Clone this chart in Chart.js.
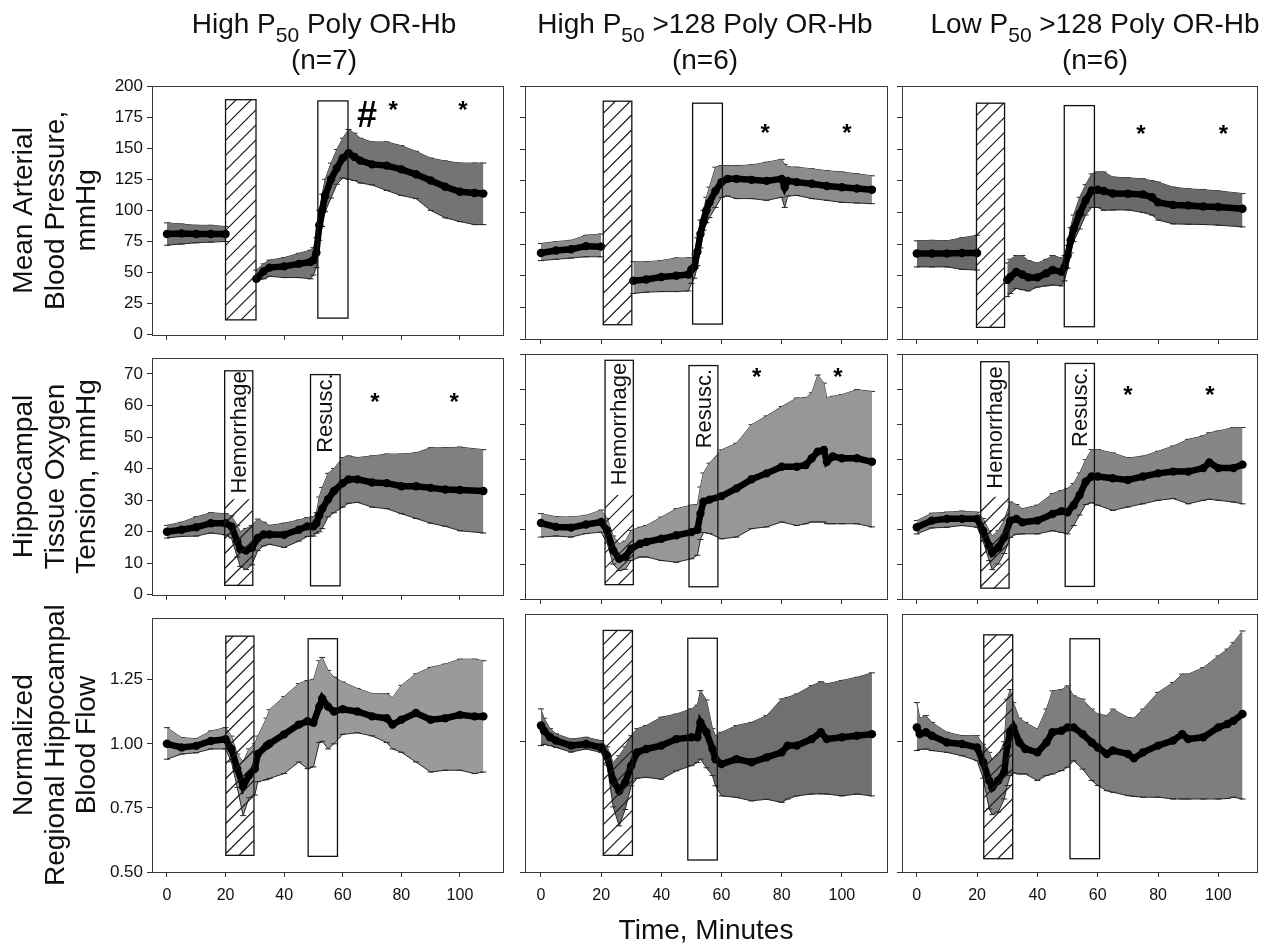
<!DOCTYPE html>
<html><head><meta charset="utf-8">
<script src="https://cdn.jsdelivr.net/npm/chart.js@4.4.1/dist/chart.umd.min.js"></script>
<style>
html,body{margin:0;padding:0;background:#fff;}
#wrap{position:relative;width:1262px;height:948px;overflow:hidden;background:#fff;}
canvas{position:absolute;}
</style></head><body><div id="wrap"></div>
<script>
// ---------------- text ----------------
const titleMain = ['High P', 'High P', 'Low P'];
const titleSub = ['50', '50', '50'];
const titleRest = [' Poly OR-Hb', ' >128 Poly OR-Hb', ' >128 Poly OR-Hb'];
const groupN = ['(n=7)', '(n=6)', '(n=6)'];
const rowTitles = [
  ['Mean Arterial', 'Blood Pressure,', 'mmHg'],
  ['Hippocampal', 'Tissue Oxygen', 'Tension, mmHg'],
  ['Normalized', 'Regional Hippocampal', 'Blood Flow']
];
const xAxisTitle = 'Time, Minutes';
const hemLabel = 'Hemorrhage';
const resLabel = 'Resusc.';

// ---------------- tick values ----------------
const xTickValues = [0, 20, 40, 60, 80, 100];
const mapTicks = [0, 25, 50, 75, 100, 125, 150, 175, 200];
const ptoTicks = [0, 10, 20, 30, 40, 50, 60, 70];
const flowTicksLabeled = [0.5, 0.75, 1.0, 1.25];
const flowTicksPlain = [0.5, 1.0];

// ---------------- data: row 1, mean arterial blood pressure (mmHg) ----------------
const A1_t  = [0, 5, 10, 15, 20, 25, 30.5, 33, 35, 40, 45, 49, 50, 51, 52, 53, 54, 56, 58, 60, 62, 64, 66, 70, 75, 80, 85, 90, 95, 100, 105, 108];
const A1_m  = [81, 81.5, 81, 81, 81, null, 45, 51, 54, 55, 57, 58.5, 60, 66, 88, 100, 112, 125, 134, 142, 146, 143, 140, 137, 136, 133, 129, 124, 119, 115, 114, 113.5];
const A1_hi = [90, 89, 88, 88, 87, null, 52, 57, 60, 62, 65.5, 68, 70, 78, 100, 113, 125, 138, 149, 158, 165, 162, 158, 155, 155, 152, 147.5, 142, 139.7, 138, 138, 138];
const A1_lo = [72, 73, 74, 74.5, 75, null, 43, 45, 47, 46, 46, 45, 48, 54, 76, 87, 99, 110, 121, 126, 125, 124, 122, 120.5, 116, 112, 109.5, 100, 94, 91, 88.6, 88.6];

const B1_t  = [0, 5, 10, 15, 20, 25, 30.7, 35, 40, 45, 49, 50, 51, 52, 53, 54, 55, 56, 58, 60, 62, 65, 70, 75, 80, 81, 82, 85, 90, 95, 100, 105, 110];
const B1_m  = [68, 70, 71, 73.4, 73, null, 46, 47, 49, 50, 51, 55, 57, 69, 83, 92.5, 101.7, 108, 117, 124, 126.6, 126.6, 125.8, 125, 126.6, 120, 125, 124, 122.7, 121, 120, 119, 118];
const B1_hi = [75.5, 77, 78, 82, 83, null, 61, 61, 62, 64, 64, 64, 67, 80, 94, 101.7, 112, 120, 135.8, 137, 137, 137, 137.6, 139.7, 142, 138, 136, 135.8, 134.5, 133, 132, 130.5, 129];
const B1_lo = [62, 63, 64, 65, 65, null, 36, 37, 37.5, 37.5, 38, 44, 48, 58, 72, 86, 92, 96, 104, 112, 113, 111, 111, 109.6, 112, 104, 113, 113.5, 111, 109.6, 108, 107.5, 107];

const C1_t  = [0, 5, 10, 15, 20, 25, 30, 31, 33, 35, 37, 40, 43, 45, 48, 49, 50, 51, 52, 54, 56, 58, 60, 62, 65, 70, 75, 78, 80, 85, 90, 95, 100, 108];
const C1_m  = [67.6, 67.6, 67.6, 68, 68, null, 46.7, 49, 53, 51, 48.7, 48.7, 52, 54.5, 53.2, 57, 66, 78, 87, 99, 109.6, 117.4, 118, 117, 115, 114.8, 114.3, 112, 108, 106, 105.6, 104.8, 104.3, 103];
const C1_hi = [77.6, 78, 77.6, 80, 82, null, 60, 63, 66, 66, 62, 60, 63, 66, 64, 66, 74, 88, 98, 112, 122, 130.5, 132, 132, 128, 127.4, 126.6, 125, 124, 120, 118.7, 118, 117, 115];
const C1_lo = [57, 57, 57, 55, 54.5, null, 33.5, 36, 40, 39, 38, 41, 42, 42.7, 42, 46, 56, 68, 77, 87, 98, 104, 104, 101.7, 102, 102, 100, 98, 94, 91, 90.7, 90.5, 90, 88.6];

// ---------------- data: row 2, hippocampal tissue oxygen tension (mmHg) ----------------
const A2_t  = [0, 5, 10, 15, 20, 22, 24, 25, 27, 29, 31, 33, 35, 40, 45, 48, 50, 51, 52, 53, 55, 57, 60, 62, 65, 70, 75, 80, 85, 90, 95, 100, 108];
const A2_m  = [20, 20.6, 21.4, 22.7, 22.7, 21.7, 17, 14.5, 14, 14.9, 18, 19.1, 19.1, 19, 20.6, 21.7, 21.7, 22.7, 25.2, 27.3, 30.3, 32.9, 35.4, 36.6, 36.6, 35.6, 35.4, 34.4, 34.4, 33.9, 33.4, 33.2, 32.9];
const A2_hi = [22, 23, 24.7, 26, 25.7, 25, 22, 20, 21, 22, 24, 23, 22, 22.7, 23.7, 24.5, 24.7, 26, 31, 34, 38.5, 40, 43.5, 44, 43.5, 44, 44.6, 44.6, 45, 46.6, 46.6, 46.8, 46];
const A2_lo = [18, 18.5, 18.6, 19.6, 19, 18, 12, 9, 8, 9.5, 14, 15.5, 16, 15, 17, 18.5, 18.6, 19.5, 20, 21, 24.7, 26, 27.8, 29, 29.3, 27.8, 27.3, 25.7, 24.2, 22.7, 21.7, 20.3, 19.6];

const B2_t  = [0, 5, 10, 15, 20, 22, 24, 26, 28, 30, 33, 35, 40, 45, 50, 52, 53, 54, 56, 60, 65, 70, 75, 80, 85, 88, 90, 92, 94, 95, 97, 100, 105, 110];
const B2_m  = [21.7, 20.6, 20.4, 21.3, 22, 19.6, 13.9, 11.5, 12, 14.4, 15.8, 16.3, 17.2, 18.2, 19.1, 19.8, 24.4, 27.8, 28.4, 29.4, 31.6, 34.2, 35.9, 37.8, 37.8, 38.3, 40.2, 42.1, 42.6, 39.2, 40.7, 40.2, 40.2, 39.2];
const B2_hi = [24.4, 23.5, 23.4, 23.9, 25.4, 23, 18, 15.8, 16.5, 19.6, 20.5, 21, 23.4, 25.8, 26.8, 27, 32, 36, 38.8, 42.6, 44.5, 49.8, 52.3, 55, 57.4, 57.5, 58.9, 64, 61.7, 57.5, 57.9, 58.4, 59.8, 59.3];
const B2_lo = [17.7, 18, 17.7, 18.7, 19.1, 16, 10, 8.1, 8.5, 11, 12, 12, 11, 10.5, 11.5, 12.5, 17, 19, 18.7, 17.2, 17.7, 20.1, 20.6, 22, 21, 21.5, 22, 22, 22, 21.5, 21.5, 21.5, 21.5, 20.6];

const C2_t  = [0, 5, 10, 15, 20, 22, 24, 25, 27, 29, 31, 33, 35, 40, 45, 48, 50, 52, 54, 56, 58, 60, 65, 70, 75, 80, 85, 90, 95, 97, 100, 105, 108];
const C2_m  = [20.5, 22.4, 22.9, 22.9, 22.9, 19.5, 15.2, 13.2, 14.7, 17.6, 22.4, 22.9, 21.9, 22.4, 24.3, 25.1, 24.8, 26.8, 29.7, 33.5, 35, 35, 34.5, 34, 35, 35.9, 36.4, 36.4, 37.4, 39, 37.4, 37.4, 38.4];
const C2_hi = [22.4, 24.5, 24.8, 25.1, 24.8, 23, 19.5, 18, 19.5, 22.5, 27.7, 27, 25.8, 26.8, 30.1, 31, 31.6, 33, 36, 39.8, 42.7, 42.7, 41.7, 40.3, 40.8, 42.2, 43.7, 45.6, 46.6, 47.5, 48, 49, 49];
const C2_lo = [18.6, 20.3, 20.5, 21, 20.5, 16.5, 11, 8.4, 10, 13, 17.6, 18.5, 18.6, 18.6, 19.5, 19, 18.6, 21, 24, 27, 27.5, 26.8, 25.3, 26.3, 27.2, 28.2, 28.7, 27.2, 28.2, 28.5, 28.2, 27.7, 27.2];

// ---------------- data: row 3, normalized regional hippocampal blood flow ----------------
const A3_t  = [0, 5, 10, 15, 20, 22, 24, 26, 28, 30, 31, 34, 35, 40, 45, 48, 50, 52, 53, 55, 57, 60, 65, 70, 75, 77, 80, 85, 90, 95, 100, 105, 108];
const A3_m  = [1.00, 0.986, 0.992, 1.011, 1.018, 0.98, 0.903, 0.833, 0.877, 0.903, 0.96, 0.992, 1.00, 1.037, 1.075, 1.088, 1.082, 1.145, 1.177, 1.145, 1.126, 1.135, 1.126, 1.107, 1.1, 1.075, 1.094, 1.12, 1.094, 1.1, 1.113, 1.107, 1.107];
const A3_hi = [1.063, 1.024, 1.02, 1.05, 1.063, 1.03, 0.96, 0.93, 0.98, 1.0, 1.03, 1.10, 1.133, 1.184, 1.235, 1.247, 1.25, 1.324, 1.337, 1.286, 1.26, 1.241, 1.216, 1.196, 1.196, 1.18, 1.228, 1.273, 1.298, 1.311, 1.33, 1.33, 1.324];
const A3_lo = [0.94, 0.96, 0.965, 0.98, 0.98, 0.93, 0.83, 0.72, 0.79, 0.8, 0.852, 0.86, 0.865, 0.884, 0.929, 0.903, 0.91, 1.005, 1.01, 0.98, 1.0, 1.037, 1.043, 1.031, 1.005, 0.98, 0.967, 0.929, 0.89, 0.897, 0.897, 0.884, 0.89];

const B3_t  = [0, 1, 3, 5, 10, 15, 20, 22, 24, 26, 28, 30, 32, 35, 40, 45, 50, 52, 53, 55, 57, 58, 60, 65, 70, 75, 80, 82, 85, 90, 93, 95, 100, 105, 110];
const B3_m  = [1.062, 1.042, 1.017, 1.004, 0.985, 0.991, 0.978, 0.946, 0.85, 0.812, 0.844, 0.908, 0.959, 0.972, 0.985, 1.01, 1.017, 1.017, 1.074, 1.036, 0.972, 0.933, 0.914, 0.933, 0.921, 0.94, 0.959, 0.985, 0.985, 1.01, 1.036, 1.01, 1.017, 1.023, 1.029];
const B3_hi = [1.126, 1.09, 1.05, 1.03, 1.01, 1.017, 1.004, 0.98, 0.92, 0.946, 0.98, 1.023, 1.05, 1.062, 1.094, 1.106, 1.126, 1.14, 1.196, 1.16, 1.05, 1.023, 1.036, 1.062, 1.074, 1.1, 1.164, 1.17, 1.183, 1.215, 1.23, 1.222, 1.235, 1.247, 1.264];
const B3_lo = [0.985, 0.99, 0.985, 0.978, 0.96, 0.972, 0.959, 0.91, 0.75, 0.677, 0.74, 0.831, 0.86, 0.863, 0.856, 0.888, 0.908, 0.92, 0.933, 0.9, 0.87, 0.831, 0.792, 0.786, 0.773, 0.779, 0.767, 0.78, 0.792, 0.799, 0.80, 0.799, 0.792, 0.799, 0.792];

const C3_t  = [0, 1, 3, 5, 10, 15, 20, 22, 24, 25, 27, 29, 30, 31, 32, 34, 36, 40, 43, 45, 48, 50, 52, 55, 58, 60, 63, 65, 70, 72, 75, 80, 85, 88, 90, 95, 100, 103, 105, 108];
const C3_m  = [1.055, 1.029, 1.036, 1.023, 0.997, 0.991, 0.978, 0.921, 0.851, 0.825, 0.851, 0.883, 0.985, 1.036, 1.055, 0.997, 0.972, 0.959, 0.997, 1.036, 1.042, 1.055, 1.055, 1.029, 0.997, 0.978, 0.953, 0.966, 0.953, 0.936, 0.959, 0.985, 1.004, 1.029, 1.01, 1.017, 1.055, 1.068, 1.08, 1.106];
const C3_hi = [1.15, 1.09, 1.1, 1.074, 1.036, 1.023, 1.023, 0.99, 0.959, 0.93, 0.946, 1.0, 1.163, 1.2, 1.15, 1.09, 1.074, 1.048, 1.125, 1.195, 1.2, 1.214, 1.176, 1.163, 1.125, 1.106, 1.1, 1.125, 1.093, 1.09, 1.125, 1.189, 1.227, 1.259, 1.259, 1.284, 1.329, 1.355, 1.38, 1.425];
const C3_lo = [0.966, 0.97, 0.972, 0.966, 0.959, 0.946, 0.927, 0.86, 0.742, 0.72, 0.73, 0.78, 0.832, 0.87, 0.88, 0.876, 0.876, 0.851, 0.87, 0.876, 0.889, 0.902, 0.927, 0.895, 0.851, 0.832, 0.812, 0.806, 0.793, 0.79, 0.787, 0.787, 0.78, 0.78, 0.78, 0.78, 0.78, 0.782, 0.787, 0.78];

// ---------------- event windows [start min, end min, low value, high value] ----------------
const A1_hem = [20, 30.4, 12, 189],    A1_res = [51.5, 61.8, 13.4, 188];
const B1_hem = [20.7, 30.2, 11.3, 188], B1_res = [50.4, 60.3, 11.8, 186.4];
const C1_hem = [19.8, 29.1, 9.2, 186.4], C1_res = [48.9, 58.9, 9.7, 184.5];
const A2_hem = [19.7, 29.3, 3, 71],     A2_res = [49, 59.1, 2.85, 69.8];
const B2_hem = [21.3, 30.7, 4.1, 68.2], B2_res = [49.2, 58.8, 3.5, 66.7];
const C2_hem = [21.2, 30.6, 3.1, 67.8], C2_res = [49.2, 58.9, 3.6, 67.3];
const A3_hem = [20.1, 29.7, 0.565, 1.42], A3_res = [48.2, 58.2, 0.561, 1.41];
const B3_hem = [20.7, 30.4, 0.564, 1.427], B3_res = [48.8, 58.6, 0.546, 1.397];
const C3_hem = [22.2, 31.8, 0.551, 1.41], C3_res = [50.8, 60.6, 0.551, 1.395];
// row 2: value where hatching stops, and value at which the box labels are centred
const A2_lab = [30.3, 51.5, 57.6];
const B2_lab = [29.7, 50, 54.4];
const C2_lab = [29.2, 49, 54.8];

// ---------------- significance marks [minute, value] ----------------
const A1_hash = [[68.3, 177.7]];
const A1_star = [[77.2, 185.6], [101, 185.6]];
const B1_star = [[74.5, 167.7], [101.7, 167.7]];
const C1_star = [[74.3, 167], [101.7, 167]];
const A2_star = [[71, 62.9], [98, 62.9]];
const B2_star = [[71.7, 65], [98.7, 65]];
const C2_star = [[70, 60.1], [97.2, 60.1]];

// ---------------- assembly ----------------
const FAMILY = '"Liberation Sans", Arial, Helvetica, sans-serif';
Chart.defaults.font.family = FAMILY;
Chart.defaults.color = '#111';

const panels = [
  [
    {t: A1_t, m: A1_m, hi: A1_hi, lo: A1_lo, hem: A1_hem, res: A1_res, stars: A1_star, hash: A1_hash},
    {t: B1_t, m: B1_m, hi: B1_hi, lo: B1_lo, hem: B1_hem, res: B1_res, stars: B1_star, hash: []},
    {t: C1_t, m: C1_m, hi: C1_hi, lo: C1_lo, hem: C1_hem, res: C1_res, stars: C1_star, hash: []}
  ],
  [
    {t: A2_t, m: A2_m, hi: A2_hi, lo: A2_lo, hem: A2_hem, res: A2_res, stars: A2_star, hash: [], lab: A2_lab},
    {t: B2_t, m: B2_m, hi: B2_hi, lo: B2_lo, hem: B2_hem, res: B2_res, stars: B2_star, hash: [], lab: B2_lab},
    {t: C2_t, m: C2_m, hi: C2_hi, lo: C2_lo, hem: C2_hem, res: C2_res, stars: C2_star, hash: [], lab: C2_lab}
  ],
  [
    {t: A3_t, m: A3_m, hi: A3_hi, lo: A3_lo, hem: A3_hem, res: A3_res, stars: [], hash: []},
    {t: B3_t, m: B3_m, hi: B3_hi, lo: B3_lo, hem: B3_hem, res: B3_res, stars: [], hash: []},
    {t: C3_t, m: C3_m, hi: C3_hi, lo: C3_lo, hem: C3_hem, res: C3_res, stars: [], hash: []}
  ]
];

// layout (pixels) and axis ranges
const frameCols = [[152, 503], [525, 887], [902, 1260]];
const frameRows = [[86, 339], [354, 599], [614, 872]];
const titleCenters = [324, 705, 1095];
const xRange = [[-5.1, 114.7], [-5.3, 115], [-4.9, 112.8]];
const yRange = [
  [[0, 200], [0, 200], [0, 200]],
  [[0, 75], [0, 70], [0, 70]],
  [[0.5, 1.49], [0.5, 1.49], [0.5, 1.49]]
];
const yTickSets = [
  [mapTicks, mapTicks, mapTicks],
  [ptoTicks, ptoTicks, ptoTicks],
  [flowTicksLabeled, flowTicksPlain, flowTicksPlain]
];
const bandFill = [
  ['#747474', '#8c8c8c', '#6a6a6a'],
  ['#808080', '#979797', '#868686'],
  ['#9a9a9a', '#707070', '#7e7e7e']
];

function pts(t, v) { return t.map((x, i) => ({x: x, y: v[i]})); }

function drawHatch(ctx, x0, x1, yTop, yBot) {
  ctx.save();
  ctx.beginPath(); ctx.rect(x0, yTop, x1 - x0, yBot - yTop); ctx.clip();
  ctx.beginPath();
  const w = x1 - x0;
  for (let yy = yBot + w; yy > yTop - 2; yy -= 15) {
    ctx.moveTo(x0, yy); ctx.lineTo(x1, yy - w);
  }
  ctx.lineWidth = 1.2; ctx.strokeStyle = '#1a1a1a'; ctx.stroke();
  ctx.restore();
}

function makeChart(r, c) {
  const p = panels[r][c];
  const [fl, fr] = frameCols[c];
  const [ft, fb] = frameRows[r];
  const L = c === 0 ? 0 : fl - 24;
  const R = c === 2 ? 1262 : fr + 6;
  const T = r === 0 ? 0 : ft - 10;
  const B = r === 2 ? 948 : fb + 10;
  const cv = document.createElement('canvas');
  cv.width = R - L; cv.height = B - T;
  cv.style.left = L + 'px'; cv.style.top = T + 'px';
  cv.style.width = (R - L) + 'px'; cv.style.height = (B - T) + 'px';
  document.getElementById('wrap').appendChild(cv);

  const framePlugin = {
    id: 'frame' + r + c,
    afterDraw(chart) {
      const {ctx, chartArea: ca} = chart;
      ctx.save();
      ctx.strokeStyle = '#3a3a3a'; ctx.lineWidth = 1;
      ctx.strokeRect(Math.round(ca.left) + 0.5, Math.round(ca.top) + 0.5,
        Math.round(ca.right - ca.left), Math.round(ca.bottom - ca.top));
      ctx.restore();
    }
  };

  const annoPlugin = {
    id: 'anno' + r + c,
    afterDatasetsDraw(chart) {
      const {ctx, scales: {x, y}} = chart;
      ctx.save();
      // hemorrhage window (hatched)
      const hx0 = x.getPixelForValue(p.hem[0]), hx1 = x.getPixelForValue(p.hem[1]);
      const hyT = y.getPixelForValue(p.hem[3]), hyB = y.getPixelForValue(p.hem[2]);
      const hatchTop = p.lab ? y.getPixelForValue(p.lab[0]) : hyT;
      drawHatch(ctx, hx0, hx1, hatchTop, hyB);
      ctx.strokeStyle = '#111'; ctx.lineWidth = 1.3;
      ctx.strokeRect(hx0, hyT, hx1 - hx0, hyB - hyT);
      // resuscitation window (empty)
      const rx0 = x.getPixelForValue(p.res[0]), rx1 = x.getPixelForValue(p.res[1]);
      const ryT = y.getPixelForValue(p.res[3]), ryB = y.getPixelForValue(p.res[2]);
      ctx.strokeRect(rx0, ryT, rx1 - rx0, ryB - ryT);
      // labels inside the boxes (row 2)
      if (p.lab) {
        ctx.fillStyle = '#111';
        ctx.font = '22px ' + FAMILY;
        ctx.textAlign = 'center'; ctx.textBaseline = 'middle';
        ctx.save(); ctx.translate((hx0 + hx1) / 2 + 1, y.getPixelForValue(p.lab[1]));
        ctx.rotate(-Math.PI / 2); ctx.fillText(hemLabel, 0, 0); ctx.restore();
        ctx.save(); ctx.translate((rx0 + rx1) / 2 + 1, y.getPixelForValue(p.lab[2]));
        ctx.rotate(-Math.PI / 2); ctx.fillText(resLabel, 0, 0); ctx.restore();
      }
      // significance marks
      ctx.fillStyle = '#000'; ctx.textAlign = 'center'; ctx.textBaseline = 'alphabetic';
      ctx.font = 'bold 24px ' + FAMILY;
      p.stars.forEach(s => {
        ctx.fillText('*', x.getPixelForValue(s[0]), y.getPixelForValue(s[1]) + 0.58 * 24);
      });
      ctx.font = 'bold 36px ' + FAMILY;
      p.hash.forEach(s => {
        ctx.fillText('#', x.getPixelForValue(s[0]), y.getPixelForValue(s[1]) + 0.36 * 36);
      });
      ctx.restore();
    }
  };

  const titlePlugin = {
    id: 'coltitle' + r + c,
    afterDraw(chart) {
      if (r !== 0) return;
      const ctx = chart.ctx;
      const cx = titleCenters[c] - L;
      const big = '28px ' + FAMILY, small = '21px ' + FAMILY;
      const parts = [titleMain[c], titleSub[c], titleRest[c]];
      ctx.save();
      ctx.fillStyle = '#111'; ctx.textBaseline = 'alphabetic'; ctx.textAlign = 'left';
      const widths = parts.map((s, i) => { ctx.font = i === 1 ? small : big; return ctx.measureText(s).width; });
      let xx = cx - widths.reduce((a, b) => a + b, 0) / 2;
      parts.forEach((s, i) => {
        ctx.font = i === 1 ? small : big;
        ctx.fillText(s, xx, i === 1 ? 42 : 33);
        xx += widths[i];
      });
      ctx.font = big; ctx.textAlign = 'center';
      ctx.fillText(groupN[c], cx, 69);
      ctx.restore();
    }
  };

  const yTicks = yTickSets[r][c];
  const yW = fl - L, xH = B - fb;
  const axisColor = '#333';

  new Chart(cv, {
    type: 'line',
    data: {
      datasets: [
        {data: pts(p.t, p.hi), borderColor: '#262626', borderWidth: 1, pointStyle: 'line', pointRadius: 3, pointBorderWidth: 1, pointBorderColor: '#262626', fill: false, order: 2, tension: 0},
        {data: pts(p.t, p.lo), borderColor: '#262626', borderWidth: 1, pointStyle: 'line', pointRadius: 3, pointBorderWidth: 1, pointBorderColor: '#262626', fill: '-1', backgroundColor: bandFill[r][c], order: 1, tension: 0},
        {data: pts(p.t, p.m), borderColor: '#000', borderWidth: 6.5, pointRadius: 4.2, pointBackgroundColor: '#000', pointBorderWidth: 0, fill: false, order: 0, tension: 0}
      ]
    },
    options: {
      responsive: false, animation: false, devicePixelRatio: 1, events: [],
      layout: {padding: {left: 0, top: ft - T, right: R - fr, bottom: 0}},
      plugins: {legend: {display: false}, tooltip: {enabled: false}},
      scales: {
        x: {
          type: 'linear', min: xRange[c][0], max: xRange[c][1],
          afterBuildTicks: s => { s.ticks = xTickValues.map(v => ({value: v})); },
          afterFit: s => { s.height = xH; },
          grid: {drawOnChartArea: false, drawTicks: true, tickLength: 5, color: axisColor},
          border: {display: false},
          ticks: {display: r === 2, font: {size: 16}, color: '#111', padding: 9, maxRotation: 0, autoSkip: false},
          title: (r === 2 && c === 1) ? {display: true, text: xAxisTitle, font: {size: 28}, color: '#111', padding: {top: 0, bottom: 0}} : {display: false}
        },
        y: {
          type: 'linear', min: yRange[r][c][0], max: yRange[r][c][1],
          afterBuildTicks: s => { s.ticks = yTicks.map(v => ({value: v})); },
          afterFit: s => { s.width = yW; },
          grid: {drawOnChartArea: false, drawTicks: true, tickLength: 5, color: axisColor},
          border: {display: false},
          ticks: {display: c === 0, font: {size: 17}, color: '#111', padding: 4,
                  callback: v => r === 2 ? Number(v).toFixed(2) : String(v)},
          title: c === 0 ? {display: true, text: rowTitles[r], font: {size: 28, lineHeight: 1.12}, color: '#111', padding: {top: 9, bottom: 0}} : {display: false}
        }
      }
    },
    plugins: [framePlugin, annoPlugin, titlePlugin]
  });
}

for (let r = 0; r < 3; r++) for (let c = 0; c < 3; c++) makeChart(r, c);
</script>
</body></html>
